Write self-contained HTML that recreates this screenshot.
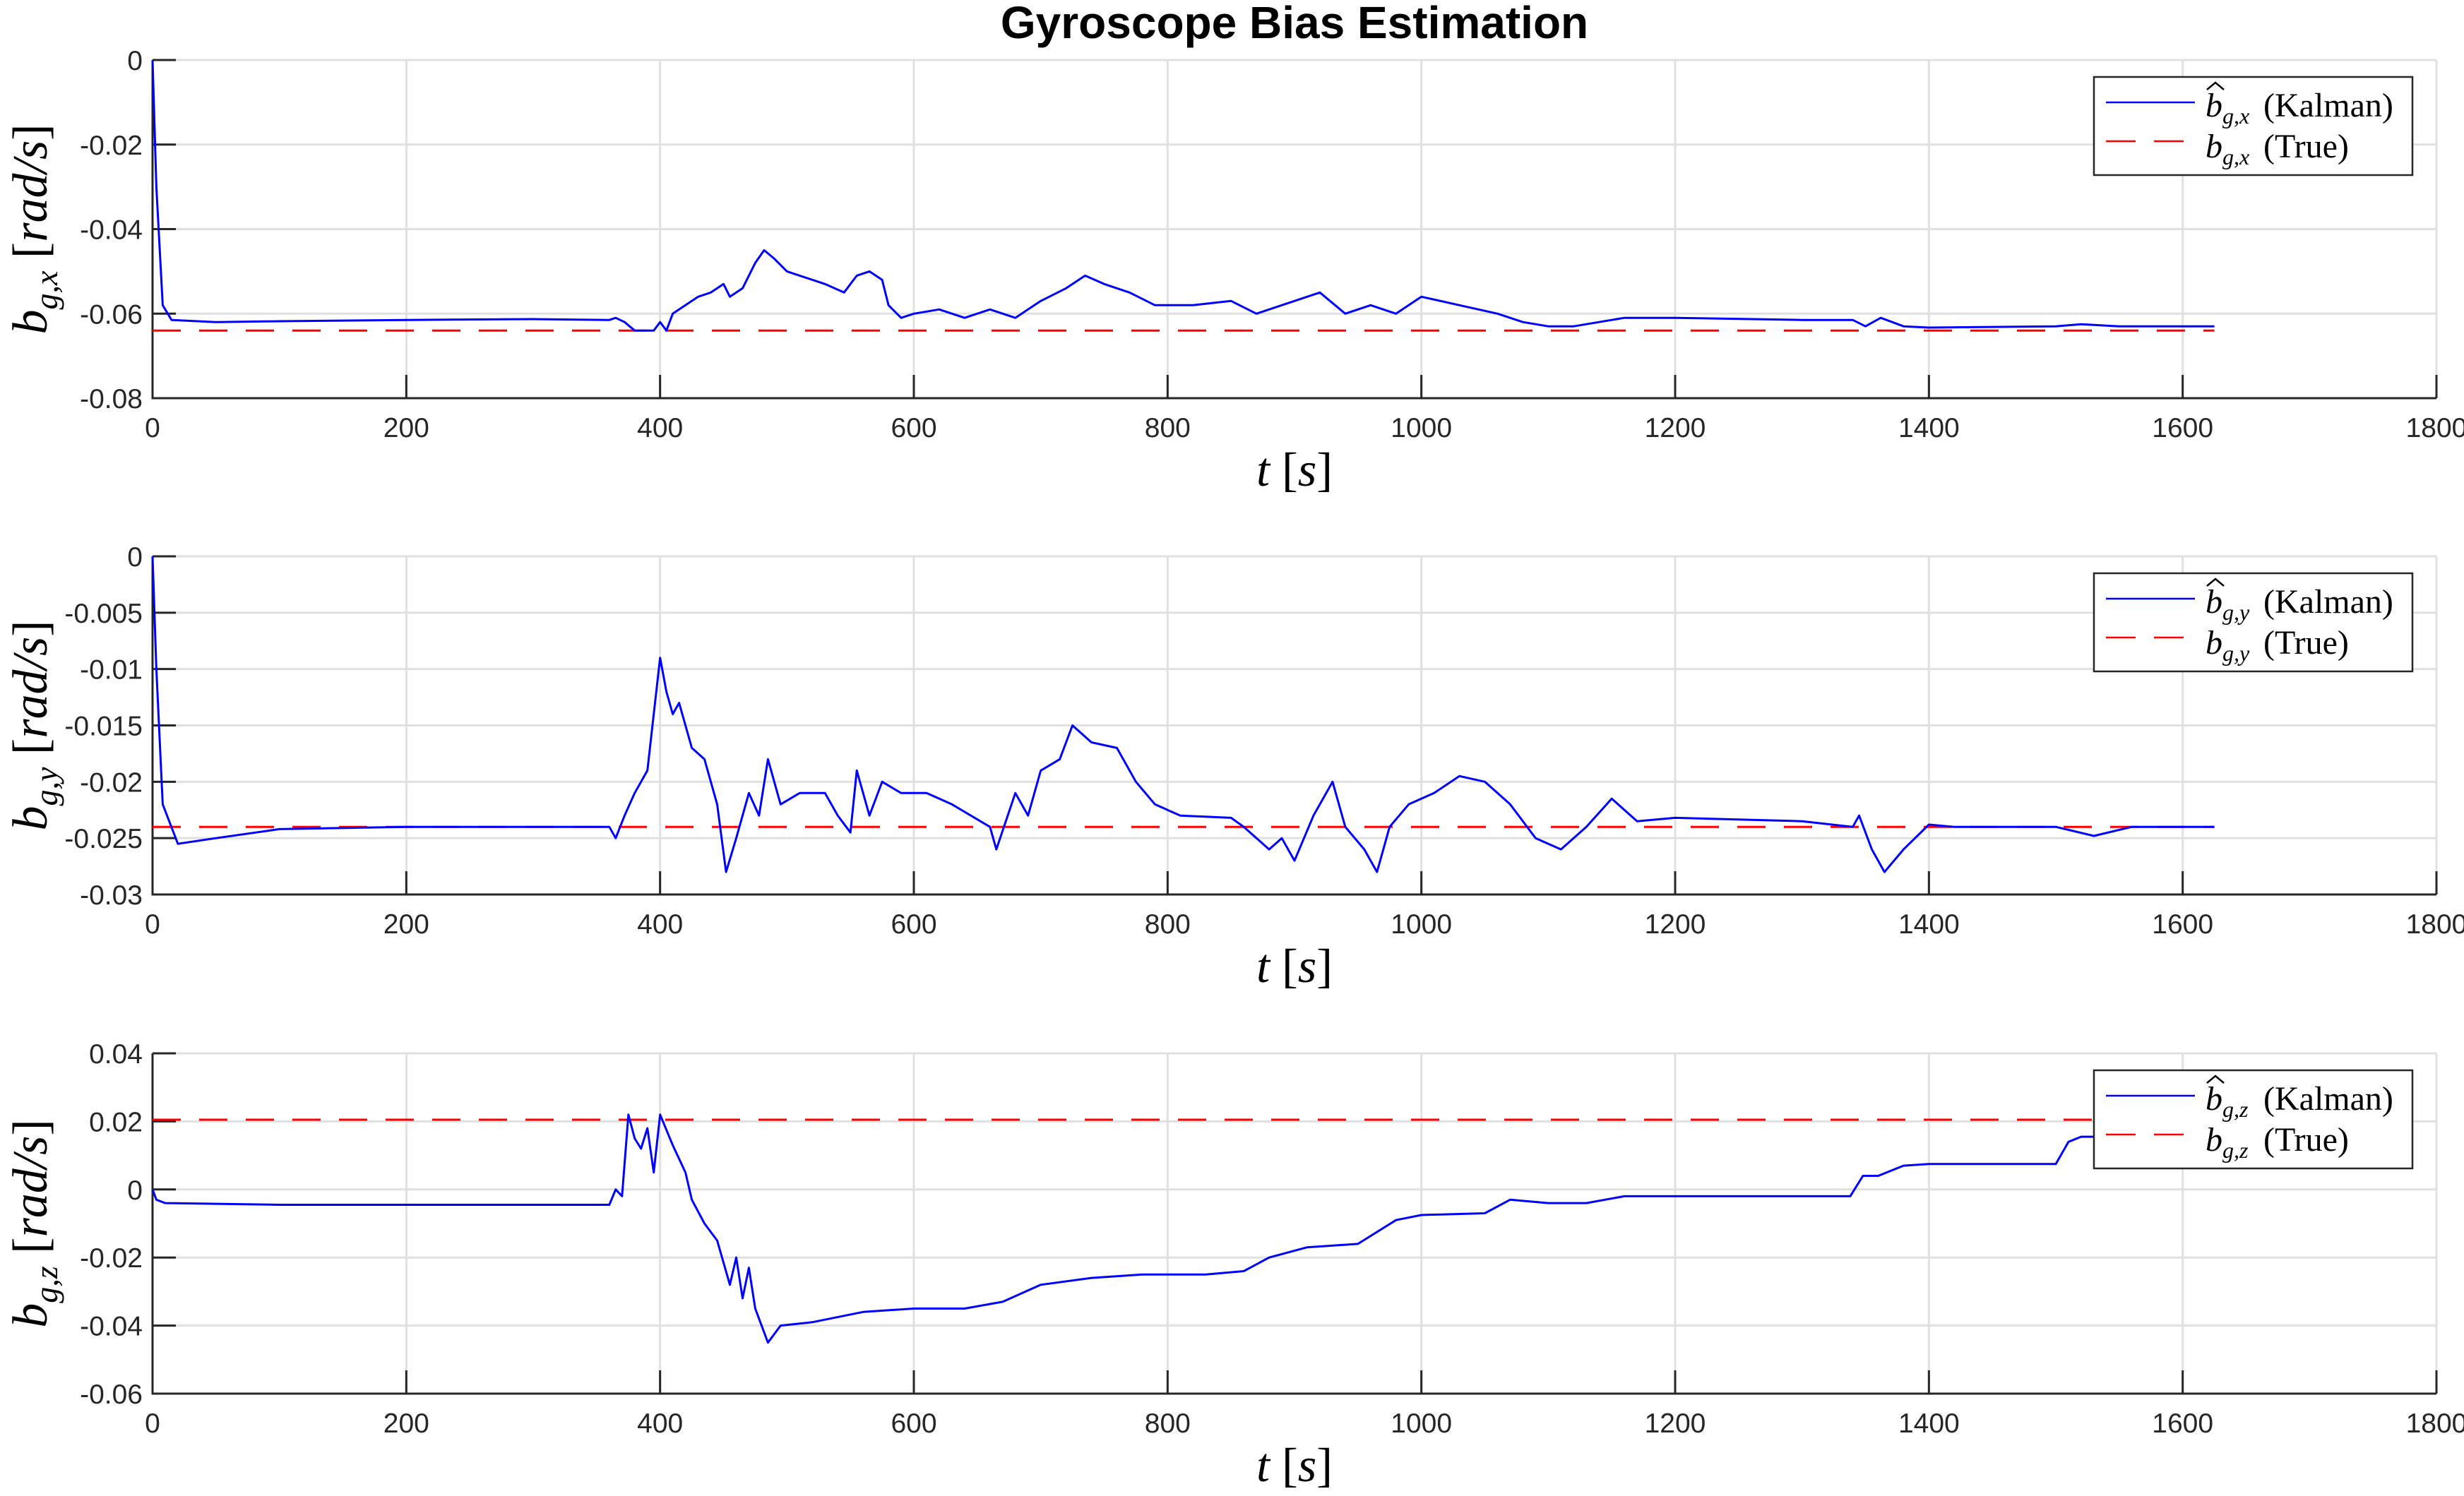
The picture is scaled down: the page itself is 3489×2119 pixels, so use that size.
<!DOCTYPE html>
<html><head><meta charset="utf-8"><style>
html,body{margin:0;padding:0;background:#fff;}
svg{display:block;}
</style></head><body>
<svg id="fig" xmlns="http://www.w3.org/2000/svg" width="3489" height="2119" viewBox="0 0 3489 2119">
<rect width="3489" height="2119" fill="#fff"/>
<text x="1833" y="54" text-anchor="middle" font-family="Liberation Sans, sans-serif" font-weight="bold" font-size="64">Gyroscope Bias Estimation</text>
</svg>
<script>
const xTicks=[0,200,400,600,800,1000,1200,1400,1600,1800];
const yTicksX=[0,-0.02,-0.04,-0.06,-0.08];
const yTicksY=[0,-0.005,-0.01,-0.015,-0.02,-0.025,-0.03];
const yTicksZ=[0.04,0.02,0,-0.02,-0.04,-0.06];
const yTickLabelsX=["0","-0.02","-0.04","-0.06","-0.08"];
const yTickLabelsY=["0","-0.005","-0.01","-0.015","-0.02","-0.025","-0.03"];
const yTickLabelsZ=["0.04","0.02","0","-0.02","-0.04","-0.06"];
const trueX=-0.064, trueY=-0.024, trueZ=0.0205;
const tX=[0,3,8,15,50,100,200,300,360,365,372,380,395,400,405,410,420,430,440,450,455,465,475,482,490,500,510,530,545,555,565,575,580,590,600,620,640,660,680,700,720,735,750,770,790,820,850,870,890,920,940,960,980,1000,1030,1060,1080,1100,1120,1140,1160,1200,1300,1340,1350,1362,1380,1400,1500,1520,1550,1625];
const vX=[0,-0.03,-0.058,-0.0615,-0.062,-0.0618,-0.0615,-0.0613,-0.0615,-0.061,-0.062,-0.064,-0.064,-0.062,-0.064,-0.060,-0.058,-0.056,-0.055,-0.053,-0.056,-0.054,-0.048,-0.045,-0.047,-0.050,-0.051,-0.053,-0.055,-0.051,-0.050,-0.052,-0.058,-0.061,-0.060,-0.059,-0.061,-0.059,-0.061,-0.057,-0.054,-0.051,-0.053,-0.055,-0.058,-0.058,-0.057,-0.060,-0.058,-0.055,-0.060,-0.058,-0.060,-0.056,-0.058,-0.060,-0.062,-0.063,-0.063,-0.062,-0.061,-0.061,-0.0615,-0.0615,-0.063,-0.061,-0.063,-0.0633,-0.063,-0.0625,-0.063,-0.063];
const tY=[0,3,8,20,50,100,200,300,360,365,372,380,390,395,400,405,410,415,425,435,445,452,460,470,478,485,495,510,530,540,550,555,565,575,590,610,630,660,665,680,690,700,715,725,740,760,775,790,810,850,860,880,890,900,915,930,940,955,965,975,990,1010,1030,1050,1070,1090,1110,1130,1150,1170,1200,1300,1340,1345,1355,1365,1380,1400,1420,1500,1530,1560,1625];
const vY=[0,-0.01,-0.022,-0.0255,-0.025,-0.0242,-0.024,-0.024,-0.024,-0.025,-0.023,-0.021,-0.019,-0.014,-0.009,-0.012,-0.014,-0.013,-0.017,-0.018,-0.022,-0.028,-0.025,-0.021,-0.023,-0.018,-0.022,-0.021,-0.021,-0.023,-0.0245,-0.019,-0.023,-0.020,-0.021,-0.021,-0.022,-0.024,-0.026,-0.021,-0.023,-0.019,-0.018,-0.015,-0.0165,-0.017,-0.020,-0.022,-0.023,-0.0232,-0.024,-0.026,-0.025,-0.027,-0.023,-0.020,-0.024,-0.026,-0.028,-0.024,-0.022,-0.021,-0.0195,-0.020,-0.022,-0.025,-0.026,-0.024,-0.0215,-0.0235,-0.0232,-0.0235,-0.024,-0.023,-0.026,-0.028,-0.026,-0.0238,-0.024,-0.024,-0.0248,-0.024,-0.024];
const tZ=[0,3,10,100,300,360,365,370,375,380,385,390,395,400,410,420,425,435,445,455,460,465,470,475,485,495,520,560,600,640,670,700,740,780,830,860,880,910,950,980,1000,1050,1070,1100,1130,1160,1200,1300,1338,1348,1360,1380,1400,1500,1510,1520,1625];
const vZ=[0,-0.003,-0.004,-0.0045,-0.0045,-0.0045,0.0,-0.002,0.022,0.015,0.012,0.018,0.005,0.022,0.013,0.005,-0.003,-0.010,-0.015,-0.028,-0.020,-0.032,-0.023,-0.035,-0.045,-0.040,-0.039,-0.036,-0.035,-0.035,-0.033,-0.028,-0.026,-0.025,-0.025,-0.024,-0.020,-0.017,-0.016,-0.009,-0.0075,-0.007,-0.003,-0.004,-0.004,-0.002,-0.002,-0.002,-0.002,0.004,0.004,0.007,0.0075,0.0075,0.014,0.0155,0.0155];

const NS="http://www.w3.org/2000/svg";
const svg=document.getElementById('fig');
function mk(tag,attrs,parent){const e=document.createElementNS(NS,tag);for(const k in attrs)e.setAttribute(k,attrs[k]);(parent||svg).appendChild(e);return e;}
const L=216,R=3450;
const panels=[
 {top:85,bot:564,ymin:-0.08,ymax:0,ticks:yTicksX,labels:yTickLabelsX,t:tX,v:vX,tr:trueX,sub:"g,x",name:"x"},
 {top:788,bot:1267,ymin:-0.03,ymax:0,ticks:yTicksY,labels:yTickLabelsY,t:tY,v:vY,tr:trueY,sub:"g,y",name:"y"},
 {top:1492,bot:1974,ymin:-0.06,ymax:0.04,ticks:yTicksZ,labels:yTickLabelsZ,t:tZ,v:vZ,tr:trueZ,sub:"g,z",name:"z"}
];
const xs=t=>L+(t-0)/(1800-0)*(R-L);
panels.forEach(p=>{
 const ys=v=>p.bot-(v-p.ymin)/(p.ymax-p.ymin)*(p.bot-p.top);
 const g=mk('g',{});
 
 
 xTicks.forEach(t=>{const l=mk('line',{x1:xs(t),x2:xs(t),y1:p.top,y2:p.bot,stroke:'#e0e0e0','stroke-width':3},g);
  });
 p.ticks.forEach(v=>{const l=mk('line',{x1:L,x2:R,y1:ys(v),y2:ys(v),stroke:'#e0e0e0','stroke-width':3},g);
  });
 const ax=mk('path',{d:`M${L},${p.top} L${L},${p.bot} L${R},${p.bot}`,fill:'none',stroke:'#262626','stroke-width':3},g);
 
 xTicks.forEach(t=>{mk('line',{x1:xs(t),x2:xs(t),y1:p.bot,y2:p.bot-33,stroke:'#262626','stroke-width':3},g);
  const tx=mk('text',{x:xs(t),y:p.bot+55,'text-anchor':'middle','font-family':'Liberation Sans, sans-serif','font-size':39,fill:'#262626'},g);
  tx.textContent=String(t);});
 p.ticks.forEach((v,i)=>{mk('line',{x1:L,x2:L+33,y1:ys(v),y2:ys(v),stroke:'#262626','stroke-width':3},g);
  const tx=mk('text',{x:L-14,y:ys(v)+14,'text-anchor':'end','font-family':'Liberation Sans, sans-serif','font-size':39,fill:'#262626'},g);
  tx.textContent=p.labels[i];});
 const tl=mk('line',{x1:xs(0),x2:xs(1625),y1:ys(p.tr),y2:ys(p.tr),stroke:'#ff0000','stroke-width':3,'stroke-dasharray':'40 26'},g);
 
 let d='';p.t.forEach((t,i)=>{d+=(i?'L':'M')+xs(t).toFixed(1)+','+ys(p.v[i]).toFixed(1);});
 const kl=mk('path',{d:d,fill:'none',stroke:'#0000ff','stroke-width':3,'stroke-linejoin':'round'},g);
 
 const xl=mk('text',{x:(L+R)/2,y:p.bot+124,'text-anchor':'middle','font-family':'Liberation Serif, serif','font-size':68},g);
 xl.innerHTML='<tspan font-style="italic">t</tspan> [<tspan font-style="italic">s</tspan>]';
 
 const cy=(p.top+p.bot)/2;
 const yl=mk('text',{x:0,y:0,transform:`translate(66,${cy}) rotate(-90)`,'text-anchor':'middle','font-family':'Liberation Serif, serif','font-size':70},g);
 yl.innerHTML=`<tspan font-style="italic">b</tspan><tspan font-size="46" font-style="italic" dy="15">${p.sub}</tspan><tspan dy="-15">  [</tspan><tspan font-style="italic">rad/s</tspan><tspan>]</tspan>`;
 
 const lx=R-34-451, ly=p.top+24;
 const lg=mk('g',{},g);
 
 mk('rect',{x:lx,y:ly,width:451,height:139,fill:'#fff',stroke:'#262626','stroke-width':2.5},lg);
 mk('line',{x1:lx+17,x2:lx+143,y1:ly+36,y2:ly+36,stroke:'#0000ff','stroke-width':2.5},lg);
 mk('line',{x1:lx+17,x2:lx+143,y1:ly+91,y2:ly+91,stroke:'#ff0000','stroke-width':2.5,'stroke-dasharray':'42 26'},lg);
 const e1=mk('text',{x:lx+158,y:ly+56,'font-family':'Liberation Serif, serif','font-size':48},lg);
 e1.innerHTML=`<tspan font-style="italic">b</tspan><tspan font-size="32" font-style="italic" dy="10">${p.sub}</tspan><tspan dy="-10" x="${lx+240}">(Kalman)</tspan>`;
 
 mk('path',{d:`M${lx+160},${ly+18} L${lx+172},${ly+8} L${lx+184},${ly+18}`,fill:'none',stroke:'#000','stroke-width':2.5},lg);
 const e2=mk('text',{x:lx+158,y:ly+114,'font-family':'Liberation Serif, serif','font-size':48},lg);
 e2.innerHTML=`<tspan font-style="italic">b</tspan><tspan font-size="32" font-style="italic" dy="10">${p.sub}</tspan><tspan dy="-10" x="${lx+240}">(True)</tspan>`;
 
});
</script>
</body></html>
